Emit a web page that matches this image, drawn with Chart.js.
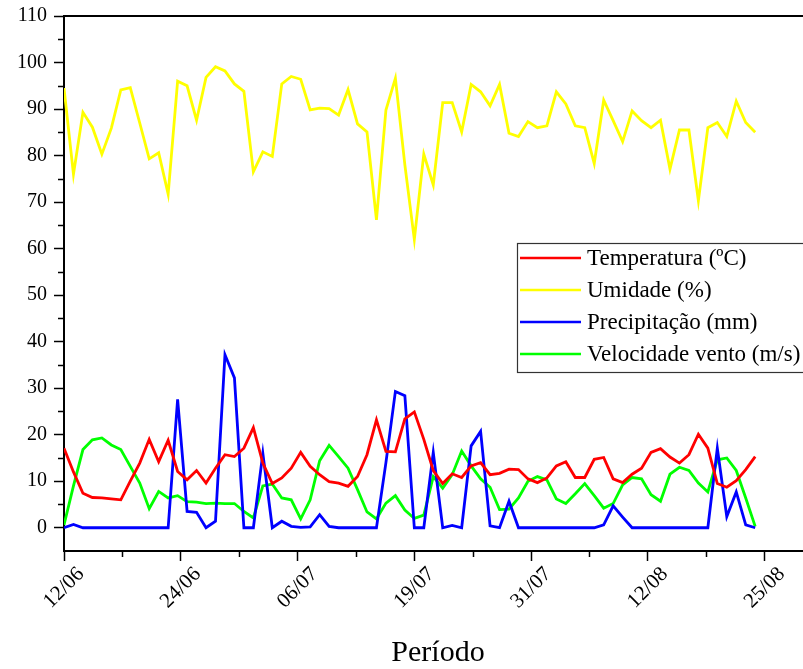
<!DOCTYPE html>
<html>
<head>
<meta charset="utf-8">
<script src="https://cdn.jsdelivr.net/npm/chart.js@4.4.0/dist/chart.umd.min.js"></script>
<style>
html,body{margin:0;padding:0;overflow:hidden;background:#fff;width:803px;height:669px}
canvas{display:block}
</style>
</head>
<body>
<canvas id="c" width="812" height="669"></canvas>
<script>
// Daily series starting 12/06 (day index 0) until 24/08 (day index 73)
const dias = Array.from({length: 74}, (_, i) => i);
const tickLabels = ['12/06', '24/06', '06/07', '19/07', '31/07', '12/08', '25/08'];
const yTicks = [0, 10, 20, 30, 40, 50, 60, 70, 80, 90, 100, 110];

const temperatura = [
  17.1, 12.0, 7.4, 6.5, 6.4, 6.2, 6.0, 10.0, 13.9, 19.0,
  14.2, 18.8, 12.1, 10.3, 12.3, 9.6, 12.8, 15.7, 15.3, 17.1,
  21.5, 13.9, 9.5, 10.7, 12.8, 16.2, 13.2, 11.4, 9.9, 9.6,
  8.9, 11.0, 15.7, 23.2, 16.4, 16.3, 23.4, 24.9, 19.0, 12.3,
  9.5, 11.6, 10.8, 13.3, 14.0, 11.4, 11.7, 12.6, 12.5, 10.5,
  9.7, 10.7, 13.3, 14.2, 10.8, 10.8, 14.7, 15.1, 10.5, 9.7,
  11.5, 12.8, 16.2, 17.0, 15.2, 13.9, 15.7, 20.1, 17.1, 9.5,
  8.7, 10.1, 12.5, 15.3
];
const umidade = [
  94.5, 76.0, 89.3, 86.1, 80.3, 85.9, 94.1, 94.6, 87.0, 79.3,
  80.6, 71.7, 96.0, 95.0, 87.6, 96.8, 99.1, 98.2, 95.4, 93.8,
  76.5, 80.8, 79.8, 95.4, 97.0, 96.4, 89.8, 90.2, 90.1, 88.7,
  94.2, 86.8, 85.1, 66.2, 89.8, 96.6, 78.0, 62.0, 80.3, 73.7,
  91.4, 91.4, 85.1, 95.3, 93.7, 90.7, 95.3, 84.8, 84.1, 87.3,
  86.0, 86.4, 93.7, 91.1, 86.4, 86.0, 78.3, 91.9, 87.5, 83.0,
  89.6, 87.5, 86.0, 87.6, 77.1, 85.5, 85.5, 70.3, 86.0, 87.1,
  84.1, 91.7, 87.1, 85.0
];
const precipitacao = [
  0, 0.7, 0, 0, 0, 0, 0, 0, 0, 0,
  0, 0, 27.6, 3.5, 3.3, 0, 1.4, 37.2, 32.2, 0,
  0, 16.0, 0, 1.4, 0.3, 0.1, 0.2, 2.8, 0.3, 0,
  0, 0, 0, 0, 14.0, 29.3, 28.4, 0, 0, 16.2,
  0, 0.5, 0, 17.6, 20.7, 0.4, 0, 5.7, 0, 0,
  0, 0, 0, 0, 0, 0, 0, 0.6, 4.7, 2.3,
  0, 0, 0, 0, 0, 0, 0, 0, 0, 17.1,
  2.4, 7.7, 0.6, 0
];
const vento = [
  0.6, 9.0, 16.8, 18.9, 19.3, 17.8, 16.8, 13.2, 9.6, 4.1,
  7.8, 6.4, 6.9, 5.6, 5.5, 5.2, 5.3, 5.2, 5.2, 3.5,
  2.1, 9.0, 9.4, 6.4, 6.0, 1.9, 6.0, 14.4, 17.7, 15.3,
  12.8, 8.2, 3.4, 1.9, 5.3, 6.9, 3.8, 2.0, 2.7, 11.0,
  8.5, 11.4, 16.5, 13.3, 10.5, 8.7, 3.9, 4.0, 6.4, 10.0,
  11.0, 10.3, 6.2, 5.2, 7.3, 9.5, 6.9, 4.2, 5.2, 9.2,
  10.8, 10.5, 7.1, 5.7, 11.5, 13.0, 12.3, 9.6, 7.7, 14.6,
  15.0, 12.3, 6.4, 0.3
];

const FONT = '"Liberation Serif", "Times New Roman", serif';
const xStep = 74 / (tickLabels.length - 1);
const toXY = arr => arr.map((v, i) => ({x: dias[i], y: v}));

Chart.defaults.color = '#000';
Chart.defaults.font.family = FONT;

const framePlugin = {
  id: 'frame',
  afterDraw(chart) {
    const {ctx, chartArea: a, scales: {x, y}} = chart;
    ctx.save();
    ctx.strokeStyle = '#000';
    ctx.lineWidth = 2;
    ctx.beginPath();
    ctx.moveTo(a.left - 1, a.top);
    ctx.lineTo(a.right + 2, a.top);
    ctx.stroke();
    ctx.lineWidth = 1.5;
    ctx.beginPath();
    for (let k = 0; k < yTicks.length - 1; k++) {
      const py = Math.round(y.getPixelForValue((yTicks[k] + yTicks[k + 1]) / 2)) + 0.5;
      ctx.moveTo(a.left - 6, py);
      ctx.lineTo(a.left, py);
    }
    for (let k = 0; k < tickLabels.length; k++) {
      const px = Math.round(x.getPixelForValue((k + 0.5) * xStep)) + 0.5;
      if (px > a.right) continue;
      ctx.moveTo(px, a.bottom);
      ctx.lineTo(px, a.bottom + 6);
    }
    ctx.stroke();

    // legend box
    const lx = 517, ly = 243, lw = 320, lh = 129, rowH = 32;
    ctx.fillStyle = '#fff';
    ctx.fillRect(lx, ly, lw, lh);
    ctx.strokeStyle = '#333';
    ctx.lineWidth = 1.2;
    ctx.strokeRect(lx + 0.5, ly + 0.5, lw, lh);
    ctx.font = '23px ' + FONT;
    ctx.textBaseline = 'middle';
    ctx.textAlign = 'left';
    chart.data.datasets.forEach((ds, i) => {
      const cy = ly + 15 + i * rowH;
      ctx.strokeStyle = ds.borderColor;
      ctx.lineWidth = 2.5;
      ctx.beginPath();
      ctx.moveTo(lx + 3, cy);
      ctx.lineTo(lx + 64, cy);
      ctx.stroke();
      ctx.fillStyle = '#000';
      ctx.fillText(ds.label, lx + 70, cy + 1);
    });
    ctx.restore();
  }
};

new Chart(document.getElementById('c'), {
  type: 'line',
  data: {
    datasets: [
      {label: 'Temperatura (ºC)', data: toXY(temperatura), borderColor: '#ff0000'},
      {label: 'Umidade (%)', data: toXY(umidade), borderColor: '#ffff00'},
      {label: 'Precipitação (mm)', data: toXY(precipitacao), borderColor: '#0000ff'},
      {label: 'Velocidade vento (m/s)', data: toXY(vento), borderColor: '#00ff00'}
    ]
  },
  options: {
    responsive: false,
    animation: false,
    layout: {padding: {top: 16, left: 0, right: 0, bottom: 0}},
    elements: {
      point: {radius: 0, hoverRadius: 0},
      line: {borderWidth: 2.8, tension: 0, fill: false, borderJoinStyle: 'miter'}
    },
    plugins: {legend: {display: false}, tooltip: {enabled: false}},
    scales: {
      x: {
        type: 'linear',
        min: 0,
        max: 79,
        afterBuildTicks: s => { s.ticks = tickLabels.map((_, i) => ({value: i * xStep})); },
        afterFit: s => { s.height = 118; },
        ticks: {
          autoSkip: false,
          minRotation: 45,
          maxRotation: 45,
          labelOffset: 17,
          padding: 1,
          font: {size: 21, family: FONT},
          callback: (v, i) => tickLabels[i]
        },
        grid: {display: true, drawOnChartArea: false, drawTicks: true, tickLength: 10, tickColor: '#000', tickWidth: 1.5},
        border: {display: true, color: '#000', width: 2},
        title: {display: true, text: 'Período', font: {size: 30, family: FONT}, padding: {top: 0, bottom: -2}}
      },
      y: {
        type: 'linear',
        min: -5,
        max: 110,
        afterBuildTicks: s => { s.ticks = yTicks.map(v => ({value: v})); },
        afterFit: s => { s.width = 64; s.paddingTop = 0; s.paddingBottom = 0; },
        ticks: {padding: 7, font: {size: 20, family: FONT, lineHeight: 1}},
        grid: {display: true, drawOnChartArea: false, drawTicks: true, tickLength: 10, tickColor: '#000', tickWidth: 1.5},
        border: {display: true, color: '#000', width: 2}
      }
    }
  },
  plugins: [framePlugin]
});
</script>
</body>
</html>
